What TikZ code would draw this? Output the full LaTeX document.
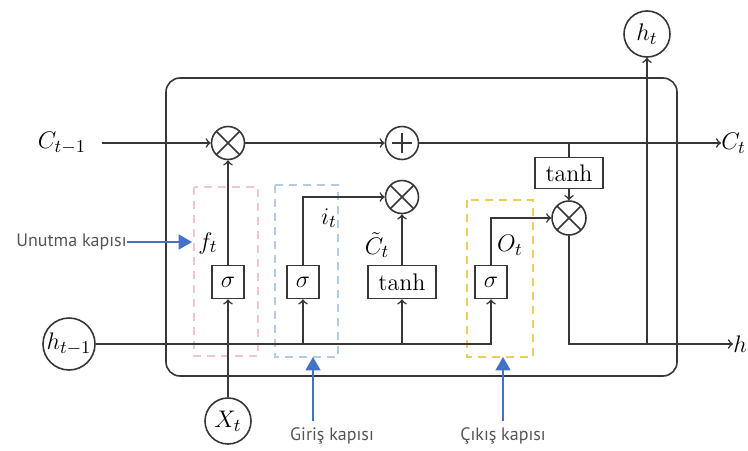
\documentclass[tikz,border=0pt]{standalone}
\usepackage{amsmath,amssymb}
\usepackage{fontspec}
\newfontfamily\gatefont{PT Sans}
\usetikzlibrary{calc,positioning,arrows,shapes}
\definecolor{linegray}{RGB}{55,55,55}
\definecolor{pinkgate}{RGB}{238,200,205}
\definecolor{bluegate}{RGB}{180,205,228}
\definecolor{yellowgate}{RGB}{236,205,90}
\definecolor{notearrow}{RGB}{68,114,196}
\definecolor{notetext}{RGB}{85,85,85}
\tikzset{
>=to,
  flow/.style={draw=linegray, thick},
  opnode/.style={
    circle,
    draw=linegray, thick,
    minimum size=16.5pt,
    inner sep=0pt},
  mult/.style={opnode,
    path picture={
      \draw[linegray, thick]
        (path picture bounding box.north west) -- (path picture bounding box.south east)
        (path picture bounding box.north east) -- (path picture bounding box.south west);}},
  plus/.style={opnode,
    path picture={
      \draw[linegray, thick]
        ([xshift=-5pt]path picture bounding box.center) -- ([xshift=5pt]path picture bounding box.center)
        ([yshift=-5pt]path picture bounding box.center) -- ([yshift=5pt]path picture bounding box.center);}},
  actbox/.style={
    rectangle,
    draw=linegray, thick,
    minimum width=16pt,
    minimum height=16.5pt,
    inner sep=1pt,
    font=\fontsize{12}{14}\selectfont},
  tanhbox/.style={actbox, minimum width=34pt},
  stateio/.style={
    circle,
    draw=linegray, thick,
    minimum size=23pt,
    inner sep=0pt,
    font=\fontsize{13}{15}\selectfont},
  lbl/.style={font=\fontsize{13}{15}\selectfont, inner sep=0pt},
  gatebox/.style={thick, dash pattern=on 4pt off 3pt},
  note/.style={font=\gatefont\fontsize{9}{11}\selectfont, text=notetext, inner sep=0pt},
  noteline/.style={draw=notearrow, thick, -triangle 60},
}

\begin{document}
\begin{tikzpicture}[x=0.5pt, y=-0.5pt]
  \useasboundingbox (0,0) rectangle (748,450);
  % cell and gate frames
  \draw[flow, rounded corners=7pt] (166,78) rectangle (677,376);
  \draw[gatebox, pinkgate] (194,187) rectangle (258,356);
  \draw[gatebox, bluegate] (275,185) rectangle (338,357);
  \draw[gatebox, yellowgate] (467,200) rectangle (533,357);

  \node[mult] (m1) at (228,143) {};
  \node[plus] (add) at (402,143) {};
  \node[mult] (m2) at (402,197) {};
  \node[mult, minimum size=17pt] (m3) at (569,218) {};
  \node[tanhbox, minimum height=15.5pt] (th2) at (569,173) {tanh};
  \node[actbox] (s1) at (228,282) {$\sigma$};
  \node[actbox] (s2) at (303,282) {$\sigma$};
  \node[tanhbox] (th1) at (402,282) {tanh};
  \node[actbox] (s3) at (491,282) {$\sigma$};

  \node[stateio, minimum size=26pt] (hprev) at (69,344) {$h_{t-1}$};
  \node[stateio] (xt) at (228,421) {$X_t$};
  \node[stateio] (ht) at (647,34) {$h_t$};
  \node[lbl] (cprev) at (62,143) {$C_{t-1}$};
  \node[lbl, anchor=west] (cnext) at (721,143) {$C_t$};
  \node[lbl, anchor=west] (hnext) at (733,344) {$h$};

  \node[lbl] (ft) at (208,243) {$f_t$};
  \node[lbl] (it) at (329,218) {$i_t$};
  \node[lbl] (cand) at (377,245) {$\tilde{C}_t$};
  \node[lbl] (ot) at (510,245) {$O_t$};

  \draw[flow, ->, shorten <=8pt] (cprev) -- (m1);
  \draw[flow, ->] (m1) -- (add);
  \draw[flow, ->] (add) -- (cnext);
  \draw[flow, ->] (xt) -- (s1);
  \draw[flow, ->] (s1) -- (m1);
  \draw[flow, ->] (hprev) -| (s3);
  \draw[flow, ->] (s2 |- hprev) -- (s2);
  \draw[flow, ->] (th1 |- hprev) -- (th1);
  \draw[flow, ->] (s2) |- (m2);
  \draw[flow, ->] (th1) -- (m2);
  \draw[flow, ->] (s3) |- (m3);
  \draw[flow] (th2 |- add) -- (th2);
  \draw[flow, ->] (th2) -- (m3);
  \draw[flow, ->] (m3) |- (hnext);
  \draw[flow, ->] (ht |- hnext) -- (ht);

  % gate notes
  \node[note, anchor=east] (forgetnote) at (127,242) {Unutma kapısı};
  \coordinate (forgettip) at (192,242);
  \draw[noteline] (forgetnote) -- (forgettip);
  \node[note] (inputnote) at (332,436) {Giriş kapısı};
  \coordinate (inputtip) at (313,357);
  \draw[noteline, shorten <=3pt] (inputtip |- inputnote.north) -- (inputtip);
  \node[note] (outputnote) at (503,436) {Çıkış kapısı};
  \coordinate (outputtip) at (503,357);
  \draw[noteline, shorten <=3pt] (outputtip |- outputnote.north) -- (outputtip);
\end{tikzpicture}
\end{document}
